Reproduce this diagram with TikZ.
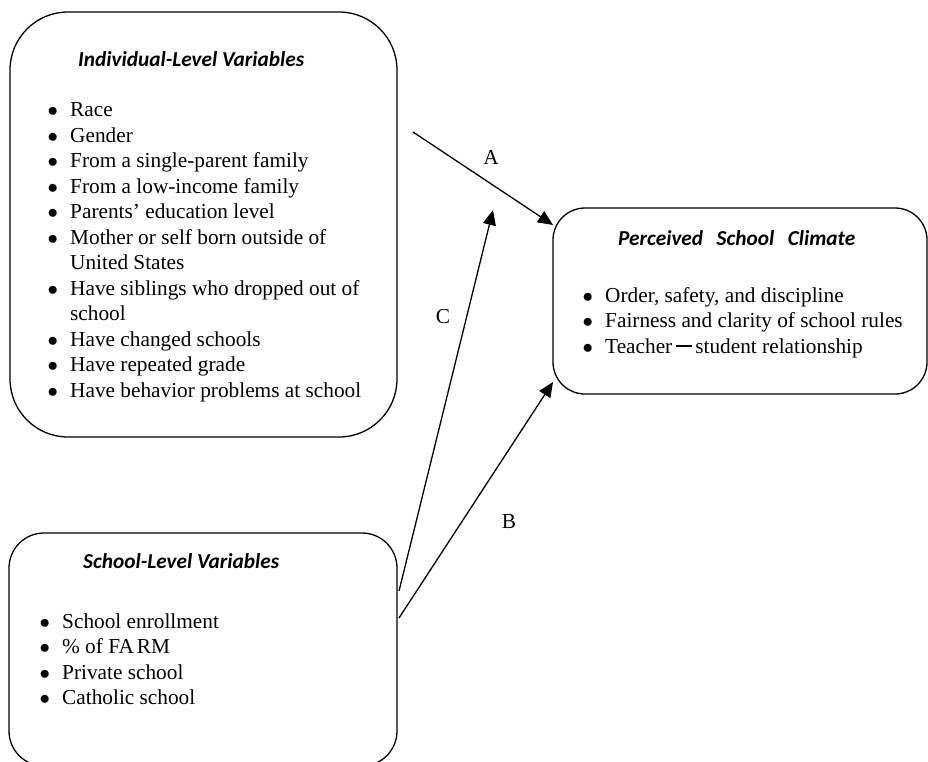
\documentclass[tikz,border=0pt]{standalone}
\usepackage{fontspec}
\setmainfont{Liberation Serif}
\newfontfamily\headfont{Carlito}
\usetikzlibrary{arrows.meta}
\newcommand{\bl}{\makebox[21pt][l]{\hspace{-1.5pt}$\bullet$}}
\newcommand{\cont}{\hspace*{21pt}}

\begin{document}
\begin{tikzpicture}[x=1pt, y=-1pt,
    box/.style={draw, line width=1.3pt, rounded corners=#1, inner sep=0pt},
    head/.style={anchor=base west, inner sep=0pt,
                 font=\fontsize{21.3}{25.5}\selectfont\headfont\bfseries\itshape},
    list/.style={anchor=base west, inner sep=0pt,
                 font=\fontsize{21.3}{25.5}\selectfont},
    link/.style={line width=1.3pt, -{Triangle[length=15pt, width=13pt]}},
    lab/.style={inner sep=0pt, font=\fontsize{21.3}{25.5}\selectfont}]
  \useasboundingbox (0,0) rectangle (928,762);

  % the three boxes
  \node[box=58pt, minimum width=387pt, minimum height=425pt] (indiv) at (203.5,224.5) {};
  \node[box=32pt, minimum width=374pt, minimum height=186pt] (climate) at (740,301) {};
  \node[box=35pt, minimum width=388pt, minimum height=233pt] (school) at (203,649.5) {};

  % individual level
  \node[head] (indivhead) at (78,67) {Individual-Level Variables};
  \node[list] (indivlist) at (49,117) {\begin{tabular}[t]{@{}l@{}}
      \bl Race\\
      \bl Gender\\
      \bl From a single-parent family\\
      \bl From a low-income family\\
      \bl Parents’ education level\\
      \bl Mother or self born outside of\\
      \cont United States\\
      \bl Have siblings who dropped out of\\
      \cont school\\
      \bl Have changed schools\\
      \bl Have repeated grade\\
      \bl Have behavior problems at school
    \end{tabular}};

  % perceived climate
  \node[head] (climatehead) at (618,245)
    {Perceived\hspace{13.5pt}School\hspace{13.5pt}Climate};
  \node[list] (climatelist) at (584,302) {\begin{tabular}[t]{@{}l@{}}
      \bl Order, safety, and discipline\\
      \bl Fairness and clarity of school rules\\
      \bl Teacher\,\rule[0.3em]{0.75em}{0.06em}\,student relationship
    \end{tabular}};

  % school level
  \node[head] (schoolhead) at (83,568) {School-Level Variables};
  \node[list] (schoollist) at (41,628) {\begin{tabular}[t]{@{}l@{}}
      \bl School enrollment\\
      \bl \% of FA\hspace{3pt}RM\\
      \bl Private school\\
      \bl Catholic school
    \end{tabular}};

  % paths A, B, C
  \coordinate (aStart) at (413,132);
  \coordinate (aEnd) at (553,225);
  \coordinate (cStart) at (399,591);
  \coordinate (cEnd) at (493,210);
  \coordinate (bStart) at (399,618);
  \coordinate (bEnd) at (553,382);
  \draw[link] (aStart) -- (aEnd);
  \draw[link] (cStart) -- (cEnd);
  \draw[link] (bStart) -- (bEnd);
  \node[lab] (labA) at (491,157) {A};
  \node[lab] (labC) at (443,317) {C};
  \node[lab] (labB) at (509,522) {B};
\end{tikzpicture}
\end{document}
